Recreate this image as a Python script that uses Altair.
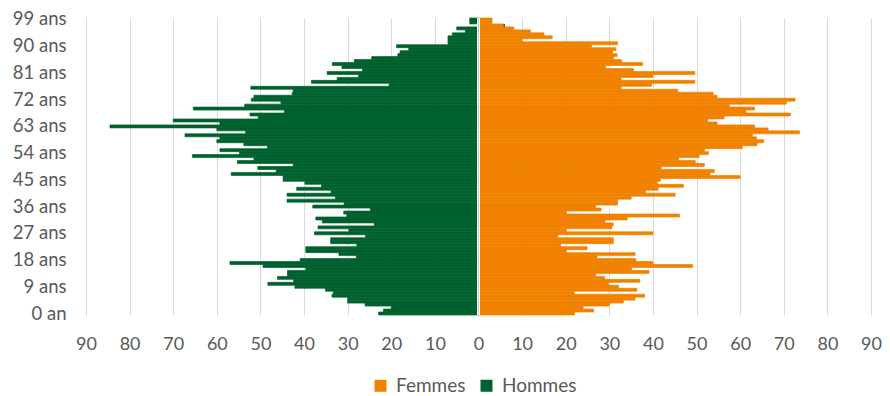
import altair as alt
import pandas as pd

# Ages 0..99 (categories) and their labels
ages = list(range(100))
age_labels = ["0 an"] + [f"{a} ans" for a in ages[1:]]
tick_ages = [0, 9, 18, 27, 36, 45, 54, 63, 72, 81, 90, 99]
x_ticks = [-90, -80, -70, -60, -50, -40, -30, -20, -10, 0, 10, 20, 30, 40, 50, 60, 70, 80, 90]

# Hommes, age 0 -> 99
hommes = [22.9, 21.8, 20.0, 26.0, 30.0, 30.0, 33.6, 33.3, 35.1, 42.1,
          48.3, 42.4, 46.1, 43.8, 43.8, 39.6, 49.4, 57.0, 40.9, 28.0,
          32.0, 39.6, 39.6, 27.9, 33.9, 33.9, 25.9, 37.6, 29.7, 36.8,
          23.9, 35.8, 37.3, 30.2, 30.9, 24.8, 38.0, 30.8, 43.9, 32.8,
          43.9, 33.8, 41.7, 36.0, 39.8, 44.8, 44.8, 56.7, 46.4, 50.6,
          42.5, 55.3, 51.5, 65.6, 54.8, 59.3, 48.4, 53.8, 60.0, 59.3,
          67.3, 53.4, 60.0, 84.5, 59.3, 70.0, 50.5, 52.4, 44.5, 65.4,
          53.6, 45.3, 52.1, 51.5, 42.7, 42.5, 52.2, 20.5, 38.3, 32.4,
          27.5, 34.7, 26.6, 31.3, 33.5, 28.5, 24.5, 18.5, 18.0, 16.0,
          18.8, 7.0, 7.0, 7.0, 6.0, 3.0, 5.0, 0.0, 2.0, 2.0]

# Femmes, age 0 -> 99
femmes = [22.0, 26.4, 24.0, 30.0, 33.2, 35.9, 38.1, 21.9, 36.3, 32.1,
          29.8, 37.0, 28.9, 26.9, 39.1, 35.1, 49.1, 40.0, 36.1, 27.2,
          35.9, 20.1, 24.9, 18.8, 30.9, 30.9, 18.2, 40.0, 20.1, 30.6,
          30.9, 29.0, 34.1, 46.1, 20.1, 28.1, 26.9, 31.9, 31.9, 35.0,
          45.1, 38.3, 41.2, 47.0, 41.0, 41.7, 60.0, 53.1, 54.1, 41.9,
          51.8, 49.7, 45.9, 50.6, 52.7, 51.8, 60.5, 63.9, 65.4, 63.7,
          62.8, 73.6, 66.4, 63.3, 54.7, 52.5, 56.3, 71.5, 61.3, 63.3,
          57.5, 70.6, 72.6, 54.7, 53.8, 45.7, 32.7, 39.7, 49.6, 32.7,
          40.0, 49.6, 35.6, 29.1, 37.6, 32.8, 30.9, 31.8, 30.7, 31.5,
          25.9, 31.9, 10.0, 16.9, 15.0, 11.9, 8.1, 5.9, 3.1, 3.1]

series = ["Femmes", "Hommes"]
colors = ["#F08200", "#00612E"]

rows = []
for a, lab, f, h in zip(ages, age_labels, femmes, hommes):
    rows.append({"age": a, "label": lab, "sexe": "Femmes", "value": f})
    rows.append({"age": a, "label": lab, "sexe": "Hommes", "value": -h})
df = pd.DataFrame(rows)

FONT = "Lato"
LABEL_COLOR = "#595959"

y_enc = alt.Y(
    "label:N",
    sort=age_labels[::-1],
    scale=alt.Scale(paddingInner=0, paddingOuter=0),
    axis=alt.Axis(
        values=[age_labels[a] for a in tick_ages],
        ticks=False, domain=False, grid=False, title=None,
        labelPadding=20, minExtent=78, maxExtent=78,
        labelFont=FONT, labelFontSize=18.5, labelColor=LABEL_COLOR,
    ),
)

x_scale = alt.Scale(domain=[-90, 90], nice=False)
color_scale = alt.Scale(domain=series, range=colors)

bars = alt.Chart(df).mark_bar(strokeWidth=0.7).encode(
    x=alt.X(
        "value:Q",
        scale=x_scale,
        axis=alt.Axis(
            values=x_ticks, labelExpr="abs(datum.value)",
            ticks=False, domain=False, title=None, labelFlush=False,
            grid=True, gridColor="#D9D9D9", gridWidth=1,
            labelPadding=20, labelFont=FONT, labelFontSize=18,
            labelColor=LABEL_COLOR,
        ),
    ),
    y=y_enc,
    color=alt.Color(
        "sexe:N",
        scale=color_scale,
        legend=alt.Legend(
            orient="none", legendX=285, legendY=358, direction="horizontal",
            title=None, symbolType="square", symbolSize=144,
            symbolStrokeWidth=0, labelOffset=6, columnPadding=11,
            labelFont=FONT, labelFontSize=19, labelColor=LABEL_COLOR,
            padding=0,
        ),
    ),
    stroke=alt.Stroke("sexe:N", scale=color_scale, legend=None),
)

zero = pd.DataFrame({"x": [0]})
white_rule = alt.Chart(zero).mark_rule(color="white", strokeWidth=3).encode(
    x=alt.X("x:Q", scale=x_scale)
)
gray_rule = alt.Chart(zero).mark_rule(color="#C8C8C8", strokeWidth=1).encode(
    x=alt.X("x:Q", scale=x_scale)
)

chart = (
    alt.layer(bars, white_rule, gray_rule)
    .properties(width=785, height=297,
                padding={"left": 0, "top": 1, "right": 0, "bottom": 0})
    .configure_view(stroke=None)
)

chart.save("out.html", embed_options={"renderer": "svg", "actions": False})
